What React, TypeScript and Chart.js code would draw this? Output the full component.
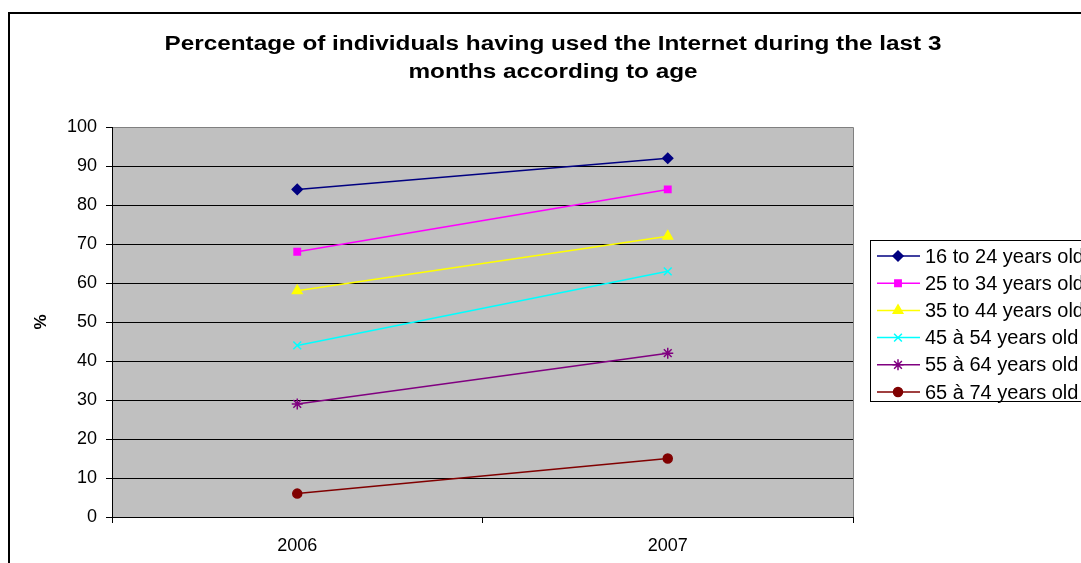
import React, { useEffect, useRef } from "react";
import { Chart, registerables } from "chart.js";
import { drawPoint } from "chart.js/helpers";

Chart.register(...registerables);

const years = ["2006", "2007"];
const seriesLabels = [
  "16 to 24 years old",
  "25 to 34 years old",
  "35 to 44 years old",
  "45 à 54 years old",
  "55 à 64 years old",
  "65 à 74 years old",
];
const age16to24 = [84, 92];
const age25to34 = [68, 84];
const age35to44 = [58, 72];
const age45to54 = [44, 63];
const age55to64 = [29, 42];
const age65to74 = [6, 15];
const seriesValues = [age16to24, age25to34, age35to44, age45to54, age55to64, age65to74];
const seriesColors = ["#000080", "#FF00FF", "#FFFF00", "#00FFFF", "#800080", "#800000"];
const seriesPoints = ["rectRot", "rect", "triangle", "crossRot", "star", "circle"];
const seriesRadius = [5, 4.5, 5.5, 5.5, 5.5, 4.5];
const titleLines = [
  "Percentage of individuals having used the Internet during the last 3",
  "months according to age",
];
const yAxisTitle = "%";

const FONT = "Arial, 'Liberation Sans', sans-serif";

const decorations = {
  id: "decorations",
  beforeDraw(chart: any) {
    const { ctx, chartArea } = chart;
    ctx.save();
    ctx.fillStyle = "#ffffff";
    ctx.fillRect(0, 0, chart.width, chart.height);
    // outer frame
    ctx.strokeStyle = "#000000";
    ctx.lineWidth = 2;
    ctx.strokeRect(9, 13, 2000, 2000);
    // plot area
    ctx.fillStyle = "#C0C0C0";
    ctx.fillRect(chartArea.left, chartArea.top, chartArea.right - chartArea.left, chartArea.bottom - chartArea.top);
    ctx.strokeStyle = "#808080";
    ctx.lineWidth = 1;
    ctx.beginPath();
    ctx.moveTo(chartArea.left, chartArea.top + 0.5);
    ctx.lineTo(chartArea.right + 0.5, chartArea.top + 0.5);
    ctx.lineTo(chartArea.right + 0.5, chartArea.bottom);
    ctx.stroke();
    ctx.restore();
  },
  afterDraw(chart: any) {
    const { ctx, chartArea } = chart;
    ctx.save();
    // title: wide bold type, the first line spanning 777px
    ctx.fillStyle = "#000000";
    ctx.font = `bold 20px ${FONT}`;
    ctx.textAlign = "center";
    ctx.textBaseline = "middle";
    const stretch = 777 / ctx.measureText(titleLines[0]).width;
    titleLines.forEach((t, i) => {
      ctx.save();
      ctx.translate(553, 44 + i * 28);
      ctx.scale(stretch, 1);
      ctx.fillText(t, 0, 0);
      ctx.restore();
    });
    // y axis title
    ctx.save();
    ctx.translate(41, (chartArea.top + chartArea.bottom) / 2);
    ctx.rotate(-Math.PI / 2);
    ctx.font = `bold 17px ${FONT}`;
    ctx.fillText(yAxisTitle, 0, 0);
    ctx.restore();
    // legend
    const lx = 870.5;
    const ly = 240.5;
    ctx.fillStyle = "#ffffff";
    ctx.fillRect(lx, ly, 300, 161);
    ctx.strokeStyle = "#000000";
    ctx.lineWidth = 1;
    ctx.strokeRect(lx, ly, 300, 161);
    chart.data.datasets.forEach((ds: any, i: number) => {
      const y = 256 + i * 27.2;
      ctx.strokeStyle = ds.borderColor;
      ctx.lineWidth = 1.5;
      ctx.beginPath();
      ctx.moveTo(877, y);
      ctx.lineTo(920, y);
      ctx.stroke();
      ctx.fillStyle = ds.pointBackgroundColor;
      ctx.strokeStyle = ds.borderColor;
      drawPoint(ctx, { pointStyle: ds.pointStyle, radius: ds.pointRadius, borderWidth: 1.5, rotation: 0 }, 898, y);
      ctx.fillStyle = "#000000";
      ctx.font = `20px ${FONT}`;
      ctx.textAlign = "left";
      ctx.textBaseline = "middle";
      ctx.fillText(ds.label, 925, y + 1);
    });
    ctx.restore();
  },
};

export default function App() {
  const canvasRef = useRef<HTMLCanvasElement | null>(null);

  useEffect(() => {
    const canvas = canvasRef.current;
    if (!canvas) return;
    const chart = new Chart(canvas, {
      type: "line",
      data: {
        labels: years,
        datasets: seriesValues.map((vals, i) => ({
          label: seriesLabels[i],
          data: vals,
          borderColor: seriesColors[i],
          backgroundColor: seriesColors[i],
          pointBackgroundColor: seriesColors[i],
          pointBorderColor: seriesColors[i],
          pointStyle: seriesPoints[i] as any,
          pointRadius: seriesRadius[i],
          pointBorderWidth: 1.5,
          borderWidth: 1.5,
          tension: 0,
          fill: false,
        })),
      },
      options: {
        animation: false,
        responsive: false,
        maintainAspectRatio: false,
        layout: { padding: { top: 127, right: 228, bottom: 0, left: 0 } },
        plugins: {
          legend: { display: false },
          title: { display: false },
          tooltip: { enabled: false },
        },
        scales: {
          x: {
            type: "category",
            offset: true,
            grid: {
              offset: true,
              drawOnChartArea: false,
              drawTicks: true,
              tickLength: 6,
              tickColor: "#000000",
              color: "#000000",
            },
            border: { display: true, color: "#000000", width: 1 },
            ticks: { color: "#000000", font: { family: FONT, size: 18 }, padding: 12, maxRotation: 0 },
            afterFit(scale: any) {
              scale.height = 46;
            },
          },
          y: {
            min: 0,
            max: 100,
            grid: {
              color: (c: any) => (c.tick && c.tick.value === 100 ? "#808080" : "#000000"),
              tickColor: "#000000",
              tickLength: 6,
              lineWidth: 1,
            },
            border: { display: true, color: "#000000", width: 1 },
            ticks: { stepSize: 10, color: "#000000", font: { family: FONT, size: 18 }, padding: 9 },
            afterFit(scale: any) {
              scale.width = 112;
            },
          },
        },
      },
      plugins: [decorations],
    });
    return () => chart.destroy();
  }, []);

  return (
    <div style={{ position: "fixed", left: 0, top: 0, width: 1081, height: 563, background: "#fff" }}>
      <canvas ref={canvasRef} width={1081} height={563} style={{ width: 1081, height: 563 }} />
    </div>
  );
}
